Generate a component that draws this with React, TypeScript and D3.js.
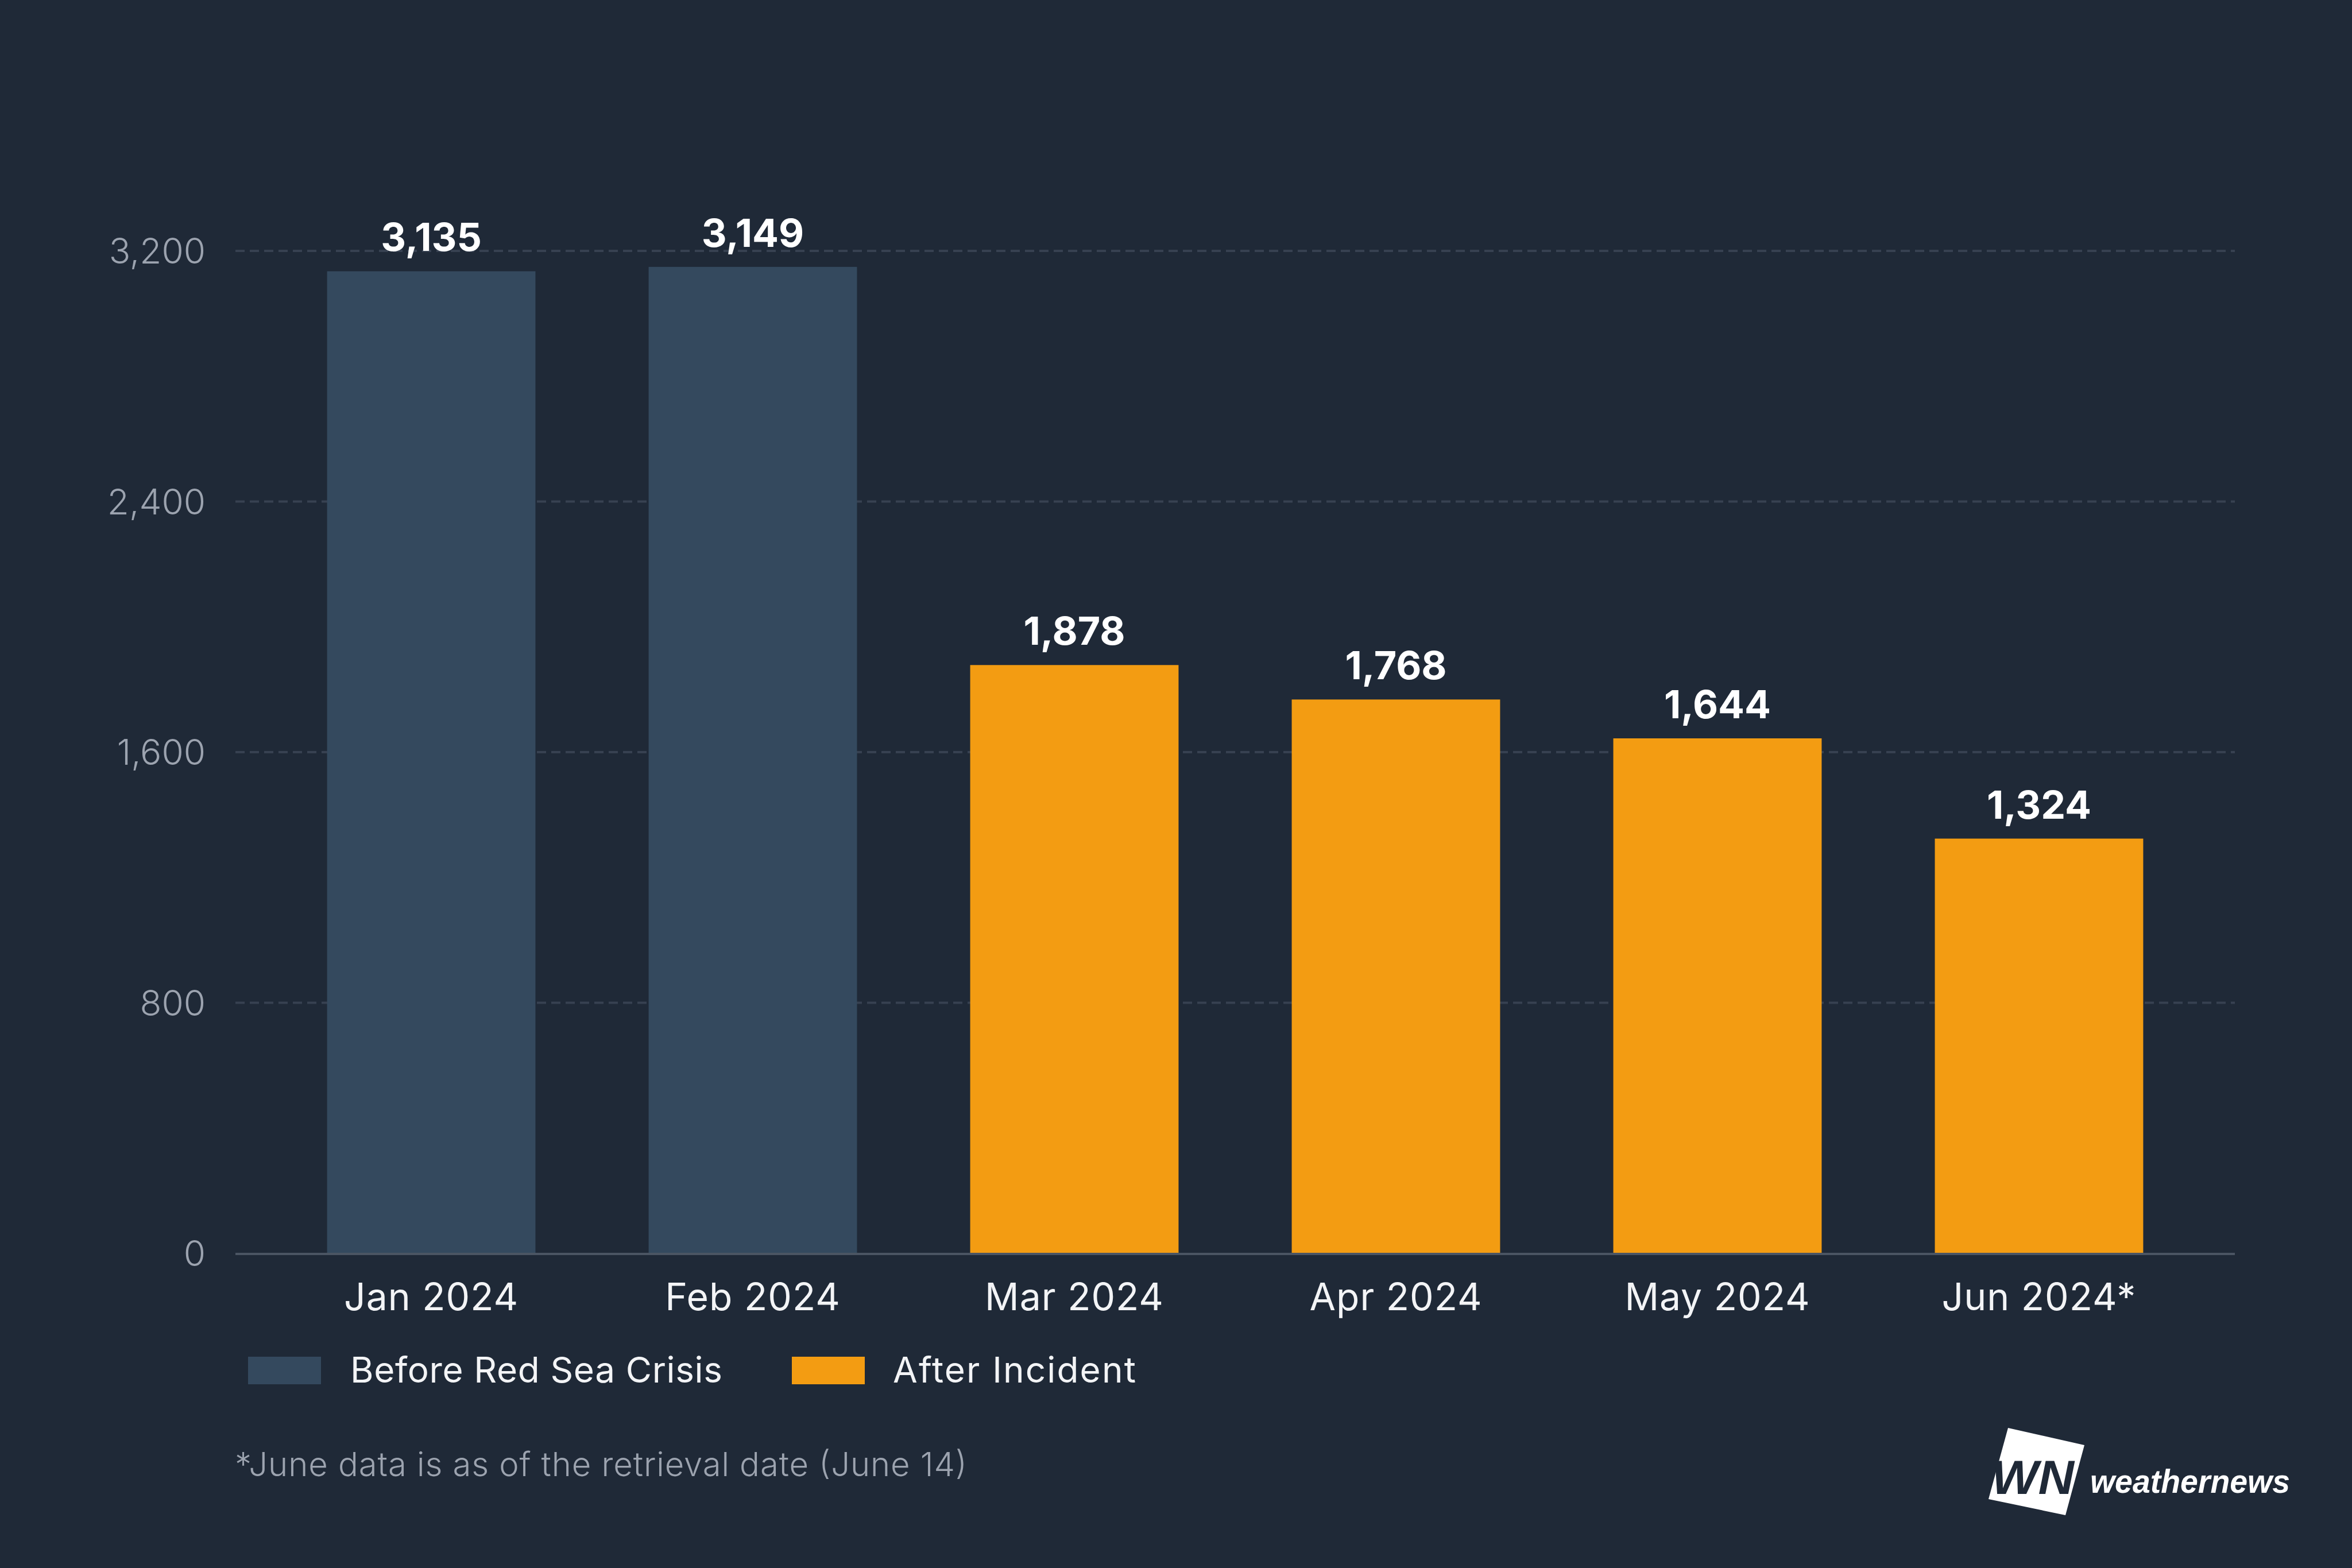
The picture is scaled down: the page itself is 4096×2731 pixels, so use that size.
import React from "react";
import * as d3 from "d3";

const categories = ["Jan 2024", "Feb 2024", "Mar 2024", "Apr 2024", "May 2024", "Jun 2024*"];
const values = [3135, 3149, 1878, 1768, 1644, 1324];
const groups = ["before", "before", "after", "after", "after", "after"];
const yTicks = [0, 800, 1600, 2400, 3200];
const legendLabels = ["Before Red Sea Crisis", "After Incident"];
const footnote = "*June data is as of the retrieval date (June 14)";

const W = 4096;
const H = 2731;
const BG = "#1f2937";
const C_BEFORE = "#34495e";
const C_AFTER = "#f39c12";
const FONT = "Inter, 'Noto Sans', sans-serif";

export default function App() {
  const x = d3
    .scaleBand<string>()
    .domain(categories)
    .range([410, 3892])
    .paddingInner(0.352)
    .paddingOuter(0.285);
  const y = d3.scaleLinear().domain([0, 3200]).range([2183, 437]);
  const fmt = d3.format(",");
  const color = (g: string) => (g === "before" ? C_BEFORE : C_AFTER);

  return (
    <svg
      width={W}
      height={H}
      viewBox={`0 0 ${W} ${H}`}
      style={{ position: "absolute", left: 0, top: 0, display: "block" }}
    >
      <rect x={0} y={0} width={W} height={H} fill={BG} />
      {/* gridlines */}
      {yTicks
        .filter((t) => t > 0)
        .map((t) => (
          <line
            key={t}
            x1={410}
            x2={3892}
            y1={y(t)}
            y2={y(t)}
            stroke="#374151"
            strokeWidth={4}
            strokeDasharray="16 9"
          />
        ))}
      {/* y tick labels */}
      {yTicks.map((t) => (
        <text
          key={"yl" + t}
          x={358}
          y={y(t)}
          dy="0.36em"
          textAnchor="end"
          fill="#9ca3af"
          fontFamily={FONT}
          fontWeight={300}
          fontSize={62}
        >
          {fmt(t)}
        </text>
      ))}
      {/* bars */}
      {categories.map((c, i) => (
        <rect
          key={"b" + c}
          x={x(c)}
          y={y(values[i])}
          width={x.bandwidth()}
          height={y(0) - y(values[i])}
          fill={color(groups[i])}
        />
      ))}
      {/* baseline */}
      <line x1={410} x2={3892} y1={y(0) + 1} y2={y(0) + 1} stroke="#4b5563" strokeWidth={4} />
      {/* value labels */}
      {categories.map((c, i) => (
        <text
          key={"v" + c}
          x={(x(c) as number) + x.bandwidth() / 2}
          y={y(values[i]) - 35}
          textAnchor="middle"
          fill="#ffffff"
          fontFamily={FONT}
          fontWeight={700}
          fontSize={68}
        >
          {fmt(values[i])}
        </text>
      ))}
      {/* x labels */}
      {categories.map((c) => (
        <text
          key={"x" + c}
          x={(x(c) as number) + x.bandwidth() / 2}
          y={2282}
          textAnchor="middle"
          fill="#f3f4f6"
          fontFamily={FONT}
          fontWeight={400}
          fontSize={66}
          letterSpacing={1}
        >
          {c}
        </text>
      ))}
      {/* legend */}
      <rect x={432} y={2363} width={127} height={48} fill={C_BEFORE} />
      <text
        x={610}
        y={2408}
        fill="#f3f4f6"
        fontFamily={FONT}
        fontSize={62}
        fontWeight={400}
        textLength={648}
        lengthAdjust="spacing"
      >
        {legendLabels[0]}
      </text>
      <rect x={1379} y={2363} width={127} height={48} fill={C_AFTER} />
      <text
        x={1555}
        y={2408}
        fill="#f3f4f6"
        fontFamily={FONT}
        fontSize={62}
        fontWeight={400}
        textLength={423}
        lengthAdjust="spacing"
      >
        {legendLabels[1]}
      </text>
      {/* footnote */}
      <text
        x={409}
        y={2571}
        fill="#9ca3af"
        fontFamily={FONT}
        fontSize={58}
        fontWeight={300}
        textLength={1275}
        lengthAdjust="spacing"
      >
        {footnote}
      </text>
      {/* logo */}
      <g>
        <polygon points="3497,2487 3630,2517 3597,2639 3463,2611" fill="#ffffff" />
        <text
          x={3468}
          y={2602}
          fill={BG}
          fontFamily="'Liberation Sans', Arial, sans-serif"
          fontWeight={700}
          fontStyle="italic"
          fontSize={84}
          textLength={144}
          lengthAdjust="spacingAndGlyphs"
        >
          WN
        </text>
        <text
          x={3640}
          y={2600}
          fill="#ffffff"
          fontFamily="'Liberation Sans', Arial, sans-serif"
          fontWeight={700}
          fontStyle="italic"
          fontSize={58}
          textLength={348}
          lengthAdjust="spacingAndGlyphs"
        >
          weathernews
        </text>
      </g>
    </svg>
  );
}
